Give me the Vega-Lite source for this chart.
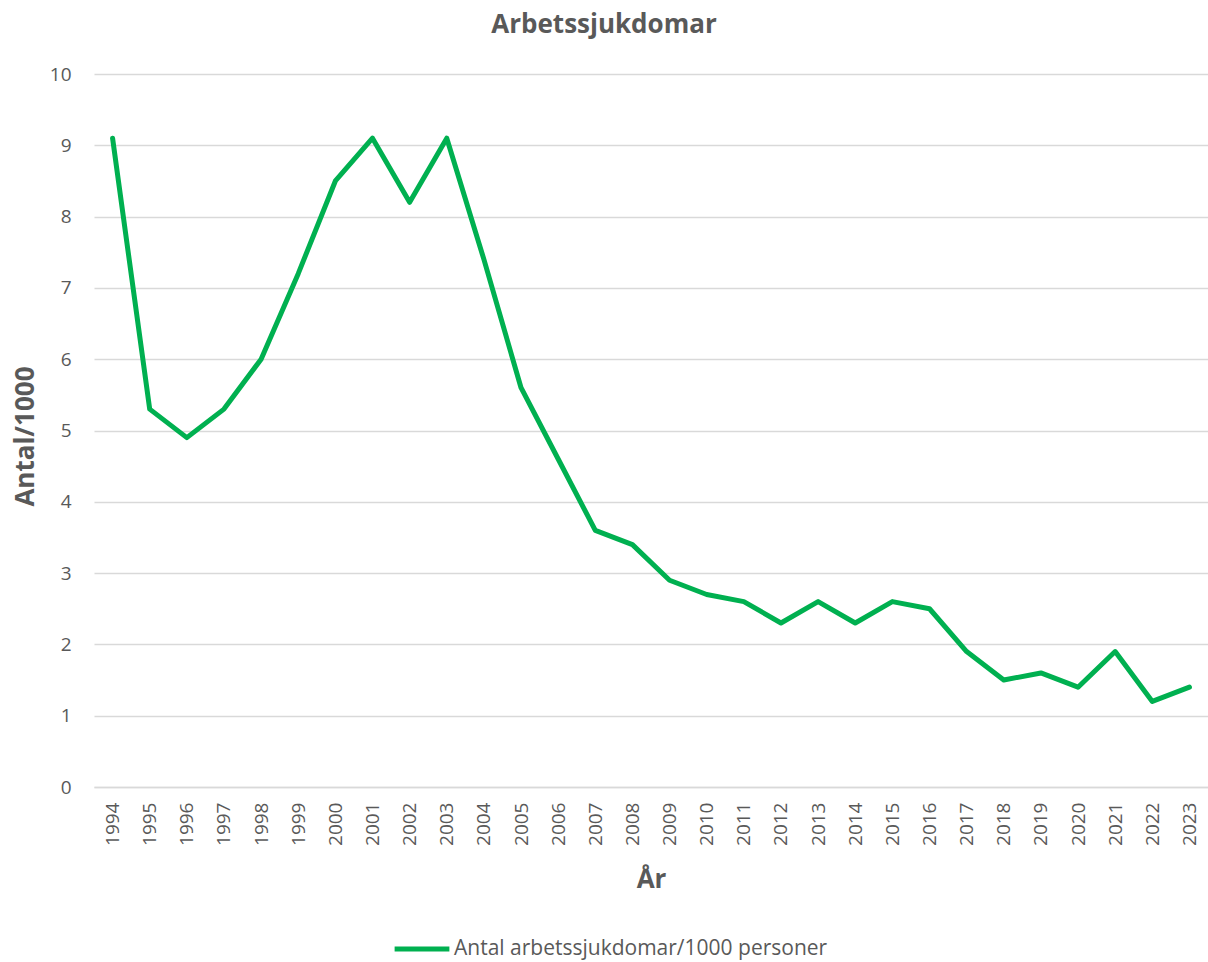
{
  "$schema": "https://vega.github.io/schema/vega-lite/v6.json",
  "autosize": "none",
  "padding": {"left": 94, "top": 74, "right": 0, "bottom": 175},
  "width": 1114,
  "height": 713,
  "background": "white",
  "title": {
    "text": "Arbetssjukdomar",
    "font": "Open Sans",
    "fontSize": 26,
    "fontWeight": "bold",
    "color": "#595959",
    "anchor": "middle",
    "dx": -47,
    "offset": 27
  },
  "config": {
    "view": {"stroke": null},
    "font": "Open Sans"
  },
  "data": {
    "values": [
      {"year": "1994", "value": 9.1, "series": "Antal arbetssjukdomar/1000 personer"},
      {"year": "1995", "value": 5.3, "series": "Antal arbetssjukdomar/1000 personer"},
      {"year": "1996", "value": 4.9, "series": "Antal arbetssjukdomar/1000 personer"},
      {"year": "1997", "value": 5.3, "series": "Antal arbetssjukdomar/1000 personer"},
      {"year": "1998", "value": 6.0, "series": "Antal arbetssjukdomar/1000 personer"},
      {"year": "1999", "value": 7.2, "series": "Antal arbetssjukdomar/1000 personer"},
      {"year": "2000", "value": 8.5, "series": "Antal arbetssjukdomar/1000 personer"},
      {"year": "2001", "value": 9.1, "series": "Antal arbetssjukdomar/1000 personer"},
      {"year": "2002", "value": 8.2, "series": "Antal arbetssjukdomar/1000 personer"},
      {"year": "2003", "value": 9.1, "series": "Antal arbetssjukdomar/1000 personer"},
      {"year": "2004", "value": 7.4, "series": "Antal arbetssjukdomar/1000 personer"},
      {"year": "2005", "value": 5.6, "series": "Antal arbetssjukdomar/1000 personer"},
      {"year": "2006", "value": 4.6, "series": "Antal arbetssjukdomar/1000 personer"},
      {"year": "2007", "value": 3.6, "series": "Antal arbetssjukdomar/1000 personer"},
      {"year": "2008", "value": 3.4, "series": "Antal arbetssjukdomar/1000 personer"},
      {"year": "2009", "value": 2.9, "series": "Antal arbetssjukdomar/1000 personer"},
      {"year": "2010", "value": 2.7, "series": "Antal arbetssjukdomar/1000 personer"},
      {"year": "2011", "value": 2.6, "series": "Antal arbetssjukdomar/1000 personer"},
      {"year": "2012", "value": 2.3, "series": "Antal arbetssjukdomar/1000 personer"},
      {"year": "2013", "value": 2.6, "series": "Antal arbetssjukdomar/1000 personer"},
      {"year": "2014", "value": 2.3, "series": "Antal arbetssjukdomar/1000 personer"},
      {"year": "2015", "value": 2.6, "series": "Antal arbetssjukdomar/1000 personer"},
      {"year": "2016", "value": 2.5, "series": "Antal arbetssjukdomar/1000 personer"},
      {"year": "2017", "value": 1.9, "series": "Antal arbetssjukdomar/1000 personer"},
      {"year": "2018", "value": 1.5, "series": "Antal arbetssjukdomar/1000 personer"},
      {"year": "2019", "value": 1.6, "series": "Antal arbetssjukdomar/1000 personer"},
      {"year": "2020", "value": 1.4, "series": "Antal arbetssjukdomar/1000 personer"},
      {"year": "2021", "value": 1.9, "series": "Antal arbetssjukdomar/1000 personer"},
      {"year": "2022", "value": 1.2, "series": "Antal arbetssjukdomar/1000 personer"},
      {"year": "2023", "value": 1.4, "series": "Antal arbetssjukdomar/1000 personer"}
    ]
  },
  "mark": {"type": "line", "strokeWidth": 5, "strokeJoin": "round", "strokeCap": "round"},
  "encoding": {
    "x": {
      "field": "year",
      "type": "ordinal",
      "scale": {"type": "point", "padding": 0.5},
      "axis": {
        "title": "År",
        "titleFont": "Open Sans",
        "titleFontSize": 26,
        "titleFontWeight": "bold",
        "titleColor": "#595959",
        "titlePadding": 21,
        "labelAngle": 270,
        "labelAlign": "right",
        "labelBaseline": "middle",
        "labelFont": "Open Sans",
        "labelFontSize": 19,
        "labelColor": "#595959",
        "labelPadding": 15,
        "ticks": false,
        "domain": true,
        "domainColor": "#d9d9d9",
        "domainWidth": 1.5,
        "grid": false
      }
    },
    "y": {
      "field": "value",
      "type": "quantitative",
      "scale": {"domain": [0, 10]},
      "axis": {
        "title": "Antal/1000",
        "titleFont": "Open Sans",
        "titleFontSize": 26,
        "titleFontWeight": "bold",
        "titleColor": "#595959",
        "titlePadding": 11,
        "titleY": 362,
        "values": [0, 1, 2, 3, 4, 5, 6, 7, 8, 9, 10],
        "labelFont": "Open Sans",
        "labelFontSize": 19,
        "labelColor": "#595959",
        "labelPadding": 23,
        "ticks": false,
        "domain": false,
        "grid": true,
        "gridColor": "#d9d9d9",
        "gridWidth": 1.5
      }
    },
    "color": {
      "field": "series",
      "type": "nominal",
      "scale": {"range": ["#00B050"]},
      "legend": {
        "title": null,
        "orient": "none",
        "legendX": 298,
        "legendY": 845,
        "symbolType": "stroke",
        "symbolSize": 3000,
        "symbolStrokeWidth": 5,
        "labelFont": "Open Sans",
        "labelFontSize": 21,
        "labelLimit": 600,
        "labelColor": "#595959",
        "labelOffset": 2
      }
    }
  }
}
